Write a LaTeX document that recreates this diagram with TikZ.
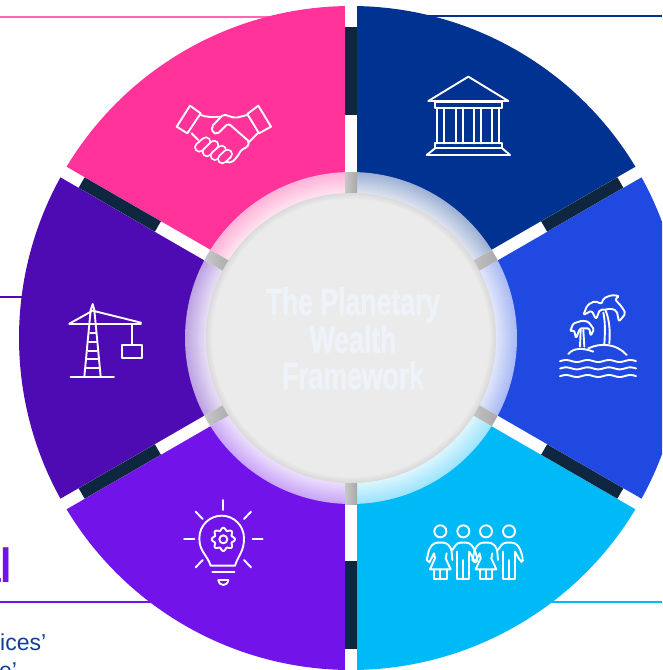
\documentclass[tikz,border=0pt]{standalone}
\usepackage{fontspec}
\setmainfont{Liberation Sans}
\newfontfamily\titlefont[FakeBold=1.6]{Liberation Sans}
\definecolor{cpink}{HTML}{FF3399}
\definecolor{cnavy}{HTML}{003391}
\definecolor{cblue}{HTML}{1F49E0}
\definecolor{ccyan}{HTML}{00B9F7}
\definecolor{cviolet}{HTML}{7213EA}
\definecolor{cdeep}{HTML}{4F0BB3}
\definecolor{cbar}{HTML}{0F2641}
\definecolor{ctxt}{HTML}{0F3F95}
\definecolor{cdisc}{HTML}{EBEBEB}
\definecolor{crim}{HTML}{DADADA}
\definecolor{ctitle}{HTML}{EEF2F9}
\tikzset{
  icon/.style={draw=white,line width=1.9pt,line join=round,line cap=round},
  zoomed/.style={shift={#1},scale=1/3},
  rule/.style={line width=1.2pt},
  titletext/.style={text=ctitle,font=\titlefont\bfseries\fontsize{38}{38}\selectfont,inner sep=0pt,anchor=base}
}
\begin{document}
\begin{tikzpicture}[x=1pt,y=1pt,yscale=-1]
\useasboundingbox (0,0) rectangle (662,670);
\clip (0,0) rectangle (662,670);
% rules
\draw[rule,draw=cpink!75!white] (0,17) -- (300,17);
\draw[rule,draw=cnavy] (400,16) -- (662,16);
\draw[rule,draw=cdeep] (0,297) -- (40,297);
\draw[rule,draw=cviolet] (0,602) -- (200,602);
\draw[rule,draw=ccyan] (500,602) -- (662,602);
% cropped text
\node[anchor=base east,inner sep=0pt,text=cviolet,font=\bfseries\fontsize{48}{48}\selectfont] (head) at (12.5,582) {\scalebox{.85}[1]{al}};
\node[anchor=base west,inner sep=0pt,text=ctxt,font=\fontsize{23}{23}\selectfont] (l1) at (0,650) {ices’};
\node[anchor=base west,inner sep=0pt,text=ctxt,font=\fontsize{23}{23}\selectfont] (l2) at (-1,678) {e’};
% wheel
\begin{scope}[shift={(351,338)}]
  \foreach \a/\col in {210/cpink,270/cnavy,330/cblue,30/ccyan,90/cviolet,150/cdeep}{
    \pgfmathsetmacro{\b}{\a+60}
    \fill[\col] (0,0) -- (\a:332) arc[start angle=\a,end angle=\b,radius=332] -- cycle;
    \foreach \r in {166,165,...,145}{
      \pgfmathsetmacro{\p}{62+(166-\r)*25/21}
      \fill[white!\p!\col] (0,0) -- (\a:\r) arc[start angle=\a,end angle=\b,radius=\r] -- cycle;
    }
  }
  \foreach \t in {30,90,150,210,270,330}{
    \fill[white,rotate=\t] (140,-6) rectangle (345,6);
    \fill[cbar,rotate=\t] (223,-6) rectangle (311,6);
    \shade[rotate=\t,left color=black!22,right color=black!34] (140,-6) rectangle (166,6);
  }
  \foreach \r in {145,144,143,142,141,140,139}{
    \pgfmathsetmacro{\p}{(145-\r)*100/6}
    \fill[cdisc!\p!crim] (0,0) circle[radius=\r];
  }
\end{scope}
\node[titletext] (t1) at (353,315) {\scalebox{.7}[1]{The Planetary}};
\node[titletext] (t2) at (353,352.7) {\scalebox{.7}[1]{Wealth}};
\node[titletext] (t3) at (353,389) {\scalebox{.7}[1]{Framework}};
% handshake
\begin{scope}[zoomed={(160,90)}]
  \draw[icon] (90,47) -- (122,70) -- (82,130) -- (50,110) -- cycle;
  \draw[icon] (295,47) -- (333,110) -- (297,130) -- (262,72) -- cycle;
  \draw[icon,rounded corners=2pt] (262,75) -- (225,84) -- (190,73) -- (155,110) -- (158,128) -- (172,132) -- (205,100) -- (268,155) -- (262,172) -- (245,178) -- (232,200) -- (215,218) -- (195,215);
  \draw[icon] (122,75) .. controls (140,82) and (160,82) .. (178,80);
  \draw[icon] (95,130) -- (115,150);
  \draw[icon] (295,128) -- (268,155);
  \foreach \x/\y/\u/\v in {118/172/138/155,141/186/162/165,165/197/185/180,187/207/203/192}{
    \draw[white,line width=10.5pt,line cap=round] (\x,\y) -- (\u,\v);
    \draw[cpink,line width=6.7pt,line cap=round] (\x,\y) -- (\u,\v);
  }
\end{scope}
% bank
\begin{scope}[zoomed={(410,60)}]
  \draw[icon] (55,123) -- (175,50) -- (295,123) -- cycle;
  \draw[icon] (75,127) rectangle (277,143);
  \foreach \x in {82,103,138,158,193,213,245,268}{\draw[icon] (\x,143) -- (\x,250);}
  \draw[icon] (75,250) rectangle (277,265);
  \draw[icon] (75,265) -- (50,285) -- (300,285) -- (277,265);
\end{scope}
% island
\begin{scope}[zoomed={(550,280)}]
  \foreach \y in {243,265,288}{
    \draw[icon] plot[domain=30:258,samples=50,smooth] (\x,{\y+3*sin(\x*5.6)});
  }
  \draw[icon] (55,222) .. controls (70,203) and (100,203) .. (130,215);
  \draw[icon] (115,205) .. controls (150,188) and (200,190) .. (230,225);
  \draw[icon] (163,192) .. controls (166,150) and (165,120) .. (160,98);
  \draw[icon] (178,190) .. controls (181,150) and (178,120) .. (167,92);
  \draw[icon,rounded corners=2pt] (100,105) -- (112,75) -- (135,63) -- (155,72) -- (160,55) -- (185,45) -- (208,48) -- (195,58) -- (215,80) -- (227,100) -- (207,125) -- (200,92) -- (180,85) -- (165,90) -- (150,88) -- (138,118) -- (125,92) -- cycle;
  \draw[icon] (90,200) -- (92,150);
  \draw[icon] (103,200) -- (100,150);
  \draw[icon,rounded corners=1.5pt] (60,155) -- (70,130) -- (88,125) -- (95,122) -- (115,125) -- (132,148) -- (122,168) -- (118,145) -- (100,145) -- (90,145) -- (78,175) -- (72,150) -- cycle;
\end{scope}
% people
\begin{scope}[zoomed={(410,510)}]
  \foreach \x in {91,228}{
    \begin{scope}[xshift=\x pt]
      \draw[icon] (0,64) circle[radius=18];
      \draw[icon,rounded corners=3pt] (-41,150) -- (-33,115) -- (-18,98) -- (18,98) -- (33,115) -- (36,150);
      \draw[icon] (-41,150) -- (-33,157) -- (-19,130) -- (-16,145) -- (-31,178) -- (31,178) -- (16,145) -- (19,130);
      \draw[icon] (-19,178) -- (-19,208) -- (19,208) -- (19,178);
      \draw[icon] (0,178) -- (0,208);
    \end{scope}
  }
  \foreach \x in {160,297}{
    \begin{scope}[xshift=\x pt]
      \draw[icon] (0,64) circle[radius=18];
      \draw[icon,rounded corners=3pt] (-33,120) -- (-18,98) -- (18,98) -- (33,115) -- (43,150) -- (36,157) -- (18,125);
      \draw[icon] (-18,125) -- (-18,208) -- (18,208) -- (18,125);
      \draw[icon] (0,150) -- (0,208);
    \end{scope}
  }
\end{scope}
% bulb
\begin{scope}[zoomed={(170,490)}]
  \foreach \x/\y/\u/\v in {160/30/160/60,222/87/243/65,248/148/278/148,222/210/243/232,98/210/77/232,42/148/73/148,98/87/77/65}{
    \draw[icon] (\x,\y) -- (\u,\v);
  }
  \draw[icon] (122,227) .. controls (112,195) and (88,185) .. (88,145) .. controls (88,105) and (120,77) .. (155,77) .. controls (190,77) and (222,105) .. (222,145) .. controls (222,185) and (205,195) .. (195,227) -- cycle;
  \draw[icon] (127,247) -- (193,247);
  \draw[icon] (145,270) -- (175,270) .. controls (172,290) and (148,290) .. (145,270) -- cycle;
  \draw[icon] (160,148) circle[radius=12];
  \draw[icon] plot[domain=0:360,samples=97,smooth] ({160+(31+4*cos(8*\x))*cos(\x)},{148+(31+4*cos(8*\x))*sin(\x)});
\end{scope}
% crane
\begin{scope}[zoomed={(50,290)}]
  \draw[icon] (103,260) -- (122,60) -- (128,42) -- (133,60) -- (152,260);
  \draw[icon] (62,260) -- (192,260);
  \draw[icon] (58,101) -- (273,101);
  \draw[icon] (128,62) -- (58,101);
  \draw[icon] (128,62) -- (273,98);
  \foreach \y/\d in {130/8,157/11,183/13,207/15,233/18}{
    \draw[icon] (128-\d,\y) -- (128+\d,\y);
  }
  \draw[icon] (245,103) -- (245,165);
  \draw[icon] (217,165) rectangle (275,203);
\end{scope}
\end{tikzpicture}
\end{document}
